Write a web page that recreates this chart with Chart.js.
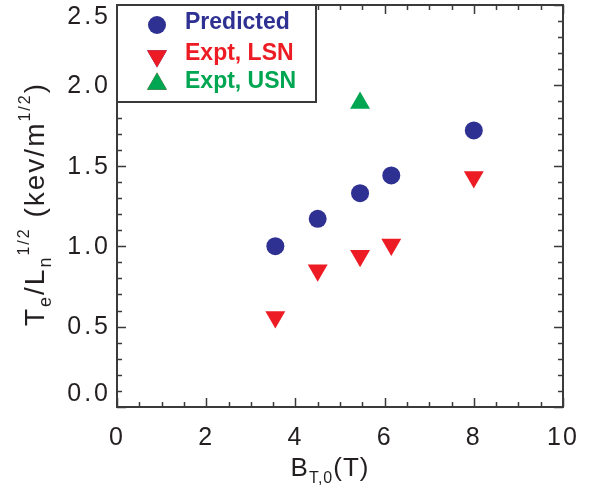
<!DOCTYPE html>
<html>
<head>
<meta charset="utf-8">
<script src="https://cdn.jsdelivr.net/npm/chart.js@4"></script>
<style>
  html, body { margin: 0; padding: 0; background: #fff; }
  #wrap { width: 596px; height: 490px; }
</style>
</head>
<body>
<div id="wrap"><canvas id="chart" width="596" height="490"></canvas></div>
<script>
// toroidal field B_T,0 (T) for each shot group
const bField = [3.55, 4.5, 5.45, 6.15, 8.0];
const predicted = [1.00, 1.17, 1.33, 1.44, 1.72];
const exptLSN = [0.56, 0.85, 0.94, 1.01, 1.43];
const usnField = [5.45];
const exptUSN = [1.89];

const xTicks = [0, 2, 4, 6, 8, 10];
const yTicks = [0.0, 0.5, 1.0, 1.5, 2.0, 2.5];

const BLUE = "#2e3192";
const RED = "#ed1c24";
const GREEN = "#00a651";
const INK = "#231f20";
const FONT = "'Liberation Sans', Arial, sans-serif";

function pts(xs, ys) {
  return xs.map((x, i) => ({ x: x, y: ys[i] }));
}

// wider tracking for the x tick labels, like the original
const spacing = {
  id: "spacing",
  beforeDraw(chart) { chart.ctx.letterSpacing = "2px"; },
  beforeDatasetsDraw(chart) { chart.ctx.letterSpacing = "0px"; }
};

// y tick labels: end labels are nudged inside the frame as in the original
const yLabels = {
  id: "yLabels",
  afterDraw(chart) {
    const { ctx, chartArea: a, scales } = chart;
    ctx.save();
    ctx.letterSpacing = "3px";
    ctx.font = "25px " + FONT;
    ctx.fillStyle = INK;
    ctx.textAlign = "right";
    ctx.textBaseline = "middle";
    yTicks.forEach(v => {
      let py = scales.y.getPixelForValue(v);
      py = Math.min(Math.max(py, a.top + 11), a.bottom - 14);
      ctx.fillText(v.toFixed(1), 111, py + 1);
    });
    ctx.restore();
  }
};

// box, inward ticks (major + minor) on all four sides
const frame = {
  id: "frame",
  afterDatasetsDraw(chart) {
    const { ctx, chartArea: a, scales } = chart;
    const xs = scales.x, ys = scales.y;
    ctx.save();
    ctx.strokeStyle = "#3a3a3a";
    ctx.lineWidth = 1.5;
    for (let v = 0; v <= 10.001; v += 0.5) {
      const px = Math.round(xs.getPixelForValue(v)) + 0.5;
      const len = Math.abs(v % 2) < 0.01 ? 9 : 5;
      ctx.beginPath();
      ctx.moveTo(px, a.bottom); ctx.lineTo(px, a.bottom - len);
      ctx.moveTo(px, a.top); ctx.lineTo(px, a.top + len);
      ctx.stroke();
    }
    for (let i = 0; i <= 25; i++) {
      const py = Math.round(ys.getPixelForValue(i / 10)) + 0.5;
      const len = i % 5 === 0 ? 9 : 5;
      ctx.beginPath();
      ctx.moveTo(a.left, py); ctx.lineTo(a.left + len, py);
      ctx.moveTo(a.right, py); ctx.lineTo(a.right - len, py);
      ctx.stroke();
    }
    ctx.lineWidth = 2;
    ctx.strokeRect(a.left, a.top, a.right - a.left, a.bottom - a.top);
    ctx.restore();
  }
};

// legend box in the top-left corner
const legendBox = {
  id: "legendBox",
  afterDraw(chart) {
    const { ctx, chartArea: a } = chart;
    const h = Chart.helpers;
    ctx.save();
    ctx.letterSpacing = "0px";
    ctx.fillStyle = "#fff";
    ctx.fillRect(a.left, a.top, 199, 97);
    ctx.strokeStyle = "#3a3a3a";
    ctx.lineWidth = 2;
    ctx.strokeRect(a.left, a.top, 199, 97);
    const rows = [20, 51, 79];
    chart.data.datasets.forEach((ds, i) => {
      const y = a.top + rows[i];
      h.drawPoint(ctx, {
        pointStyle: ds.pointStyle,
        radius: ds.pointRadius,
        rotation: ds.rotation || 0,
        borderWidth: 0
      }, a.left + 40, y);
      ctx.fillStyle = ds.backgroundColor;
      ctx.fill();
      ctx.font = "bold 23px " + FONT;
      ctx.textBaseline = "middle";
      ctx.textAlign = "left";
      ctx.fillText(ds.label, a.left + 68, y - 2);
    });
    ctx.restore();
  }
};

// axis titles with sub/superscripts
function drawRuns(ctx, runs, x, y, base) {
  let cx = x;
  runs.forEach(r => {
    ctx.font = (r.size || base) + "px " + FONT;
    ctx.fillText(r.t, cx, y + (r.dy || 0));
    cx += ctx.measureText(r.t).width;
  });
  return cx - x;
}
function runsWidth(ctx, runs, base) {
  let w = 0;
  runs.forEach(r => {
    ctx.font = (r.size || base) + "px " + FONT;
    w += ctx.measureText(r.t).width;
  });
  return w;
}

const titles = {
  id: "titles",
  afterDraw(chart) {
    const { ctx } = chart;
    ctx.save();
    ctx.letterSpacing = "1px";
    ctx.fillStyle = INK;
    ctx.textBaseline = "alphabetic";
    ctx.textAlign = "left";
    const xRuns = [
      { t: "B" },
      { t: "T,0", size: 16, dy: 7 },
      { t: "(T)" }
    ];
    const xw = runsWidth(ctx, xRuns, 26);
    drawRuns(ctx, xRuns, 330 - xw / 2, 476, 26);

    ctx.letterSpacing = "2px";
    const yRuns = [
      { t: "T" },
      { t: "e", size: 18, dy: 7 },
      { t: "/L" },
      { t: "n", size: 18, dy: 7 },
      { t: "1/2", size: 16, dy: -15 },
      { t: " (kev/m" },
      { t: "1/2", size: 16, dy: -14 },
      { t: ")" }
    ];
    const yw = runsWidth(ctx, yRuns, 28);
    ctx.translate(44, 204);
    ctx.rotate(-Math.PI / 2);
    drawRuns(ctx, yRuns, -yw / 2, 0, 28);
    ctx.restore();
  }
};

new Chart(document.getElementById("chart"), {
  type: "scatter",
  data: {
    datasets: [
      {
        label: "Predicted",
        data: pts(bField, predicted),
        backgroundColor: BLUE,
        borderWidth: 0,
        pointStyle: "circle",
        pointRadius: 9
      },
      {
        label: "Expt, LSN",
        data: pts(bField, exptLSN),
        backgroundColor: RED,
        borderWidth: 0,
        pointStyle: "triangle",
        rotation: 180,
        pointRadius: 11.5
      },
      {
        label: "Expt, USN",
        data: pts(usnField, exptUSN),
        backgroundColor: GREEN,
        borderWidth: 0,
        pointStyle: "triangle",
        pointRadius: 11.5
      }
    ]
  },
  options: {
    responsive: false,
    animation: false,
    layout: {
      autoPadding: false,
      padding: { top: 5, right: 33, left: 0, bottom: 0 }
    },
    plugins: {
      legend: { display: false },
      tooltip: { enabled: false }
    },
    scales: {
      x: {
        type: "linear",
        min: 0,
        max: 10,
        afterFit: s => {
          s.height = 83;
          s.paddingLeft = 0;
          s.paddingRight = 0;
        },
        afterBuildTicks: s => { s.ticks = xTicks.map(v => ({ value: v })); },
        grid: { display: false, drawTicks: false },
        border: { display: false },
        ticks: {
          padding: 16,
          color: INK,
          font: { family: FONT, size: 25 },
          maxRotation: 0,
          callback: v => String(v)
        }
      },
      y: {
        type: "linear",
        min: 0,
        max: 2.5,
        afterFit: s => {
          s.width = 117;
          s.paddingTop = 0;
          s.paddingBottom = 0;
        },
        afterBuildTicks: s => { s.ticks = yTicks.map(v => ({ value: v })); },
        grid: { display: false, drawTicks: false },
        border: { display: false },
        ticks: { display: false }
      }
    }
  },
  plugins: [spacing, frame, legendBox, yLabels, titles]
});
</script>
</body>
</html>
